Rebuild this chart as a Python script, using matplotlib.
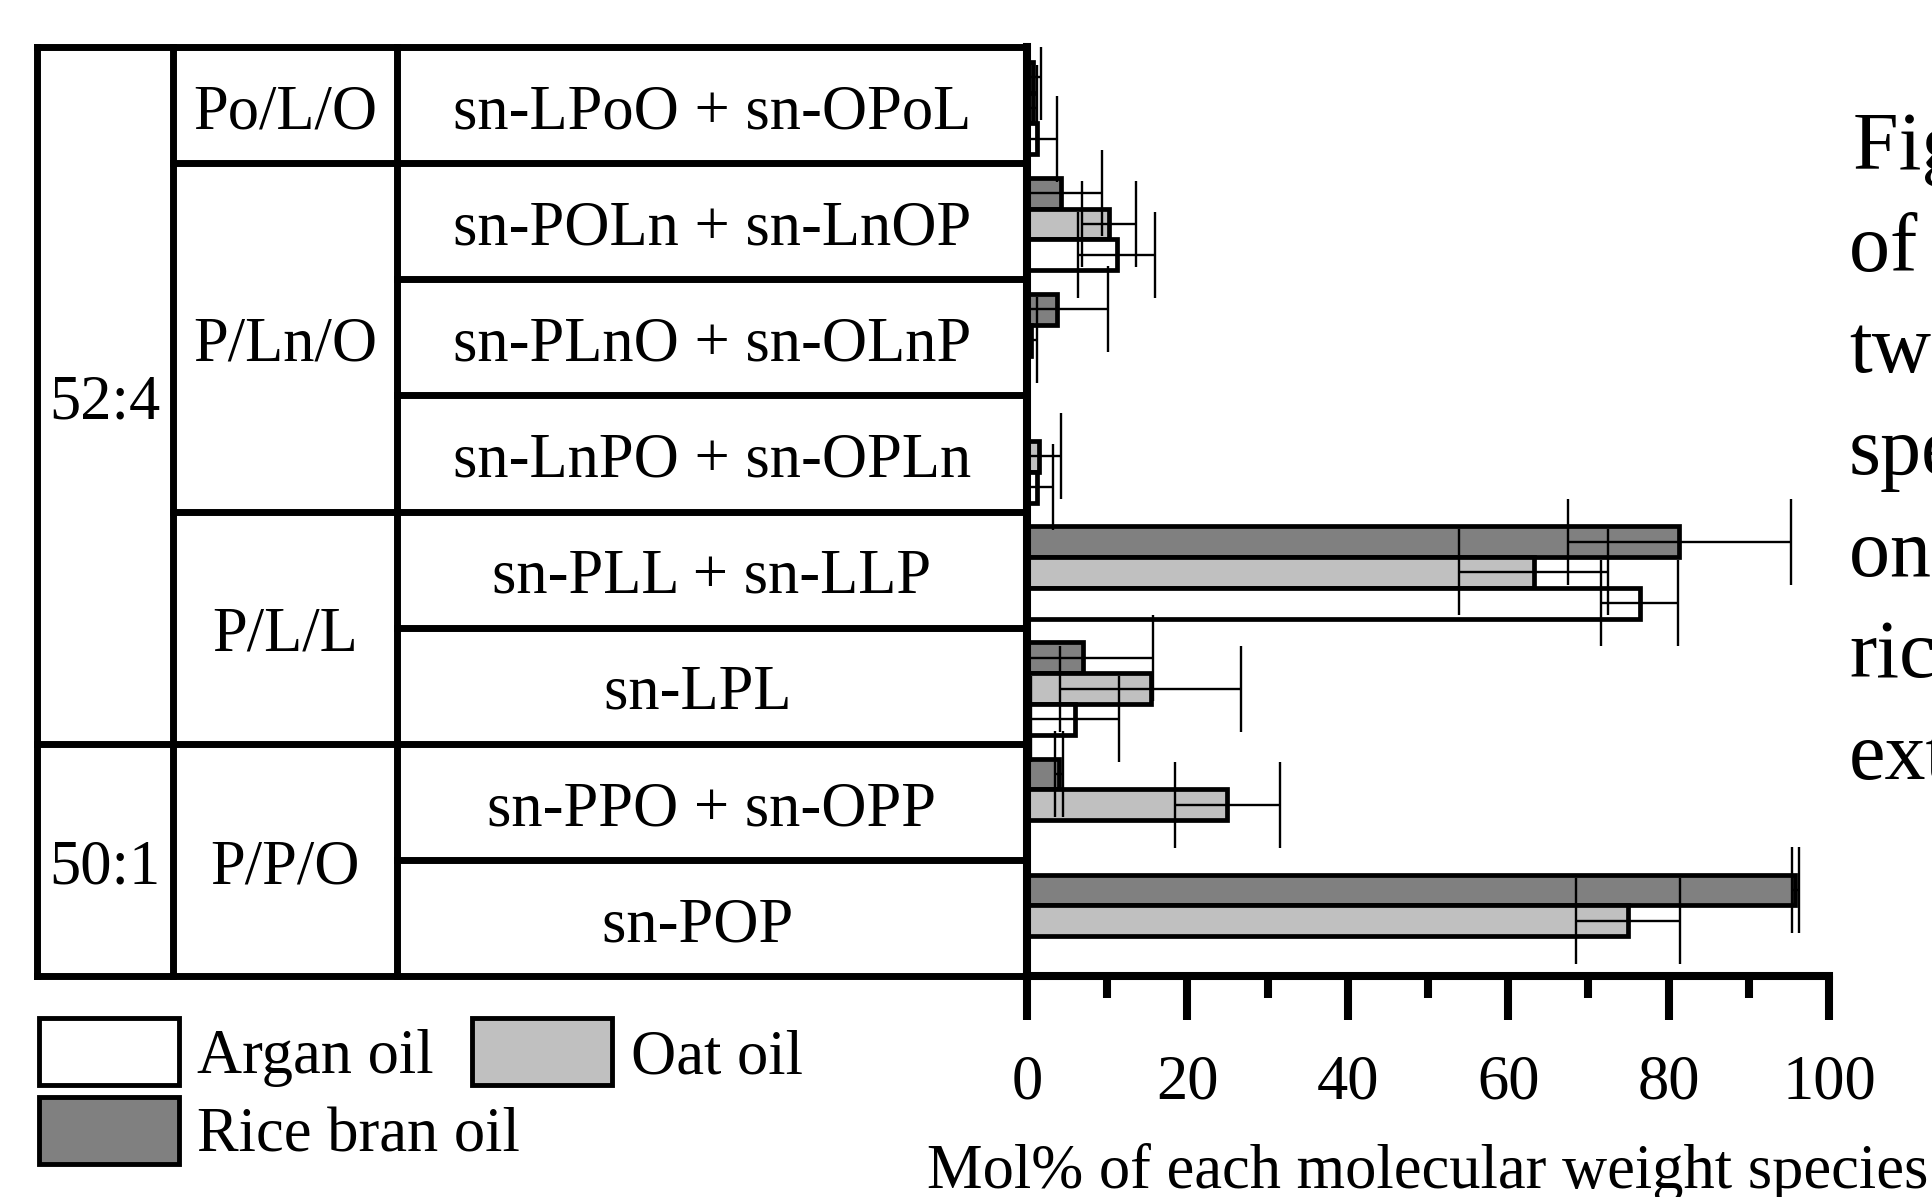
import numpy as np
import matplotlib
matplotlib.use("Agg")
import matplotlib.pyplot as plt
from matplotlib.patches import Rectangle

plt.rcParams['font.family'] = ['Liberation Serif', 'DejaVu Serif']

# rows top -> bottom
species = ["sn-LPoO + sn-OPoL", "sn-POLn + sn-LnOP", "sn-PLnO + sn-OLnP", "sn-LnPO + sn-OPLn",
           "sn-PLL + sn-LLP", "sn-LPL  ", "sn-PPO + sn-OPP", "sn-POP  "]
fa_groups = ["Po/L/O", "P/Ln/O", "P/L/L", "P/P/O"]
fa_spans = [(0, 1), (1, 4), (4, 6), (6, 8)]
mw_groups = ["52:4", "50:1"]
mw_spans = [(0, 6), (6, 8)]

argan = [1.3, 11.2, 0.0, 1.3, 76.4, 6.0, 0.0, 0.0]
argan_sd = [2.45, 4.8, 0.0, 2.0, 4.8, 5.5, 0.0, 0.0]
oat = [0.7, 10.2, 0.5, 1.5, 63.2, 15.4, 25.0, 74.9]
oat_sd = [0.5, 3.35, 0.7, 2.7, 9.3, 11.3, 6.5, 6.5]
rice = [0.8, 4.2, 3.8, 0.0, 81.3, 7.0, 4.0, 95.8]
rice_sd = [1.0, 5.1, 6.3, 0.0, 13.9, 8.7, 0.5, 0.4]

oils = ["Argan oil", "Oat oil", "Rice bran oil"]
COLORS = ["#ffffff", "#c0c0c0", "#808080"]

xticks_major = [0, 20, 40, 60, 80, 100]
xlabel = "Mol% of each molecular weight species"
side_text = ["Fig. 3", "of the", "two", "species", "on the", "rice", "extract"]

W, H = 1933, 1197
FS = 45


def frac(x0, y0, x1, y1):
    return [x0 / W, 1 - y1 / H, (x1 - x0) / W, (y1 - y0) / H]


fig = plt.figure(figsize=(W / 100, H / 100), dpi=100)

# overlay in pixel coords for legend + cropped caption text
ov = fig.add_axes([0, 0, 1, 1])
ov.set_xlim(0, W)
ov.set_ylim(H, 0)
ov.axis("off")

tab = fig.add_axes(frac(37, 47, 1027, 976))
ax = fig.add_axes(frac(1027, 47, 1829, 976))

n = len(species)
rows = np.arange(n)

# ---- table on the left
cols = [37, 173, 397, 1027]
tab.set_xlim(cols[0], cols[-1])
tab.set_ylim(n, 0)
tab.axis("off")
line_kw = dict(colors="black", linewidth=5, clip_on=False, capstyle="projecting")
tab.vlines(cols[:3], 0, n, **line_kw)
mw_edges = set(e for s in mw_spans for e in s)
fa_edges = set(e for s in fa_spans for e in s)
for b in range(n + 1):
    if b in mw_edges:
        start = cols[0]
    elif b in fa_edges:
        start = cols[1]
    else:
        start = cols[2]
    tab.hlines(b, start, cols[-1], **line_kw)

for label, (a, b) in zip(mw_groups, mw_spans):
    tab.text((cols[0] + cols[1]) / 2, (a + b) / 2 + 0.2, label, ha="center", va="baseline", fontsize=FS)
for label, (a, b) in zip(fa_groups, fa_spans):
    tab.text((cols[1] + cols[2]) / 2, (a + b) / 2 + 0.2, label, ha="center", va="baseline", fontsize=FS)
for i, label in enumerate(species):
    tab.text((cols[2] + cols[3]) / 2, i + 0.5 + 0.2, label, ha="center", va="baseline", fontsize=FS)

# ---- bars
bh = 0.265
series = [(rice, rice_sd, COLORS[2], 0.26), (oat, oat_sd, COLORS[1], 0.525), (argan, argan_sd, COLORS[0], 0.79)]
for vals, sds, col, off in series:
    ax.barh(rows + off, vals, height=bh, color=col, edgecolor="black", linewidth=3.4, zorder=2)
    ax.errorbar(vals, rows + off, xerr=sds, fmt="none", ecolor="black", elinewidth=1.7,
                capsize=31, capthick=1.7, zorder=3)

ax.set_xlim(0, 100)
ax.set_ylim(n, 0)
ax.set_yticks([])
ax.set_xticks(xticks_major)
ax.set_xticks(np.arange(10, 100, 20), minor=True)
ax.spines["top"].set_visible(False)
ax.spines["right"].set_visible(False)
ax.spines["left"].set_linewidth(5.8)
ax.spines["bottom"].set_linewidth(5.8)
ax.spines["left"].set_zorder(4)
ax.tick_params(axis="x", which="major", direction="out", length=31.7, width=5.8, labelsize=FS, pad=25)
ax.tick_params(axis="x", which="minor", direction="out", length=16, width=5.8)
ax.set_xlabel(xlabel, fontsize=FS, labelpad=22)
ax.patch.set_alpha(0)

# ---- legend drawn by hand (Argan / Oat on first row, Rice below)
legend_pos = [(39, 1018, 197), (472, 1018, 631), (39, 1097, 197)]
for name, col, (bx, by, tx) in zip(oils, COLORS, legend_pos):
    ov.add_patch(Rectangle((bx, by), 140, 67, facecolor=col, edgecolor="black", linewidth=3.5))
    ov.text(tx, by + 55, name, fontsize=FS, va="baseline", ha="left")

# ---- caption cut off by the right edge
for i, line in enumerate(side_text):
    x = 1853 if i == 0 else 1849
    ov.text(x, 169 + 101.7 * i, line, fontsize=59, va="baseline", ha="left")

fig.savefig("out.png", dpi=100)
